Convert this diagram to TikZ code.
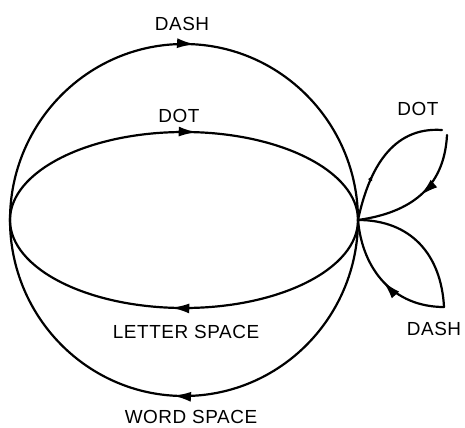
\documentclass[tikz,border=0pt]{standalone}
\usepackage{fontspec}
\setmainfont[LetterSpace=3]{Liberation Sans}
\usetikzlibrary{arrows.meta,decorations.markings}
\tikzset{
  edge/.style={line width=2.2bp, line cap=round},
  midarrow/.style={postaction={decorate},decoration={markings,
     mark=at position #1 with {\arrow{Latex[length=18bp,width=10bp]}}}},
  tinyarrow/.style={postaction={decorate},decoration={markings,
     mark=at position #1 with {\arrow{Latex[length=6bp,width=5bp]}}}},
  lbl/.style={font=\fontsize{19}{22}\selectfont, inner sep=0pt, anchor=base, text depth=0pt}
}
\begin{document}
\begin{tikzpicture}[x=1bp,y=1bp]
\useasboundingbox (0,0) rectangle (465,427);
\coordinate (L) at (10,207);
\coordinate (R) at (358,207);
\coordinate (T1) at (442,297);
\coordinate (T2) at (447,292);
\coordinate (B1) at (444,120);
% outer circle
\draw[edge, midarrow=0.52] (L) arc[start angle=180, end angle=0, x radius=174, y radius=176];
\draw[edge, midarrow=0.52] (R) arc[start angle=0, end angle=-180, x radius=174, y radius=176];
% inner ellipse
\draw[edge, midarrow=0.53] (L) arc[start angle=180, end angle=0, x radius=174, y radius=88];
\draw[edge, midarrow=0.53] (R) arc[start angle=0, end angle=-180, x radius=174, y radius=88];
% right loops
\draw[edge, tinyarrow=0.35] (R) to[out=78, in=176, looseness=1.05] (T1);
\draw[edge, midarrow=0.5] (T2) to[out=-93, in=8, looseness=1.1] (R);
\draw[edge] (R) to[out=0, in=93, looseness=1.1] (B1);
\draw[edge, midarrow=0.5] (B1) to[out=180, in=-85, looseness=1.05] (R);
% labels
\node[lbl] (dash1) at (182,396) {DASH};
\node[lbl] (dot1) at (179,305) {DOT};
\node[lbl] (ls) at (186,89) {LETTER SPACE};
\node[lbl] (ws) at (191,4) {WORD SPACE};
\node[lbl] (dot2) at (418,312) {DOT};
\node[lbl] (dash2) at (434,92) {DASH};
\end{tikzpicture}
\end{document}
